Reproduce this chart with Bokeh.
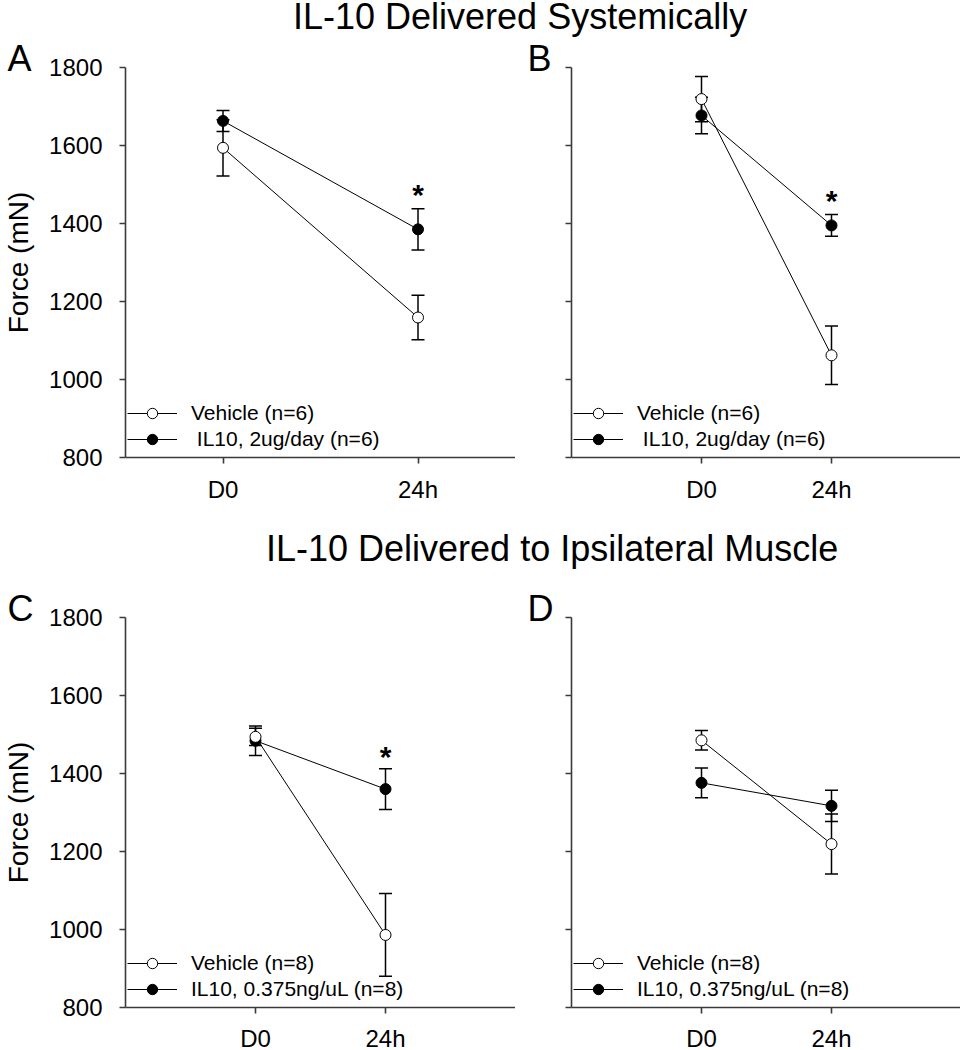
from bokeh.plotting import figure
from bokeh.models import (ColumnDataSource, Whisker, TeeHead, FixedTicker, Legend,
                          LegendItem, Div, Range1d)
from bokeh.layouts import column, row
from bokeh.embed import file_html
from bokeh.resources import INLINE
from bokeh.core.properties import value

FONT = "Liberation Sans"

# ---------------- data ----------------
timepoints = ["D0", "24h"]
x_pos = [0, 1]
y_ticks = [800, 1000, 1200, 1400, 1600, 1800]

title_top = "IL-10 Delivered Systemically"
title_bottom = "IL-10 Delivered to Ipsilateral Muscle"

# Panel A
a_vehicle_mean = [1594, 1159]
a_vehicle_err = [72, 57]
a_il10_mean = [1663, 1385]
a_il10_err = [27, 53]
a_sig = [None, 1485]

# Panel B
b_vehicle_mean = [1719, 1062]
b_vehicle_err = [58, 75]
b_il10_mean = [1677, 1395]
b_il10_err = [47, 28]
b_sig = [None, 1470]

# Panel C
c_vehicle_mean = [1494, 986]
c_vehicle_err = [22, 106]
c_il10_mean = [1484, 1360]
c_il10_err = [38, 52]
c_sig = [None, 1454]

# Panel D
d_vehicle_mean = [1485, 1219]
d_vehicle_err = [25, 77]
d_il10_mean = [1376, 1317]
d_il10_err = [38, 40]
d_sig = [None, None]

legend_vehicle_top = "Vehicle (n=6)"
legend_il10_top = " IL10, 2ug/day (n=6)"
legend_vehicle_bottom = "Vehicle (n=8)"
legend_il10_bottom = "IL10, 0.375ng/uL (n=8)"

AXIS_COLOR = "#3a3a3a"
FRAME = 390
Y0, Y1 = 800, 1800


def make_panel(letter, vm, ve, im, ie, sig, veh_label, il_label, xr,
               ylabels, border_left, border_right, border_bottom, letter_dx,
               label_standoff_x):
    p = figure(frame_width=FRAME, frame_height=FRAME,
               min_border_left=border_left, min_border_right=border_right,
               min_border_top=27, min_border_bottom=border_bottom,
               x_range=Range1d(*xr), y_range=Range1d(Y0, Y1),
               output_backend="svg", toolbar_location=None, tools="")
    p.outline_line_color = None
    p.grid.visible = False
    p.background_fill_color = "white"
    p.border_fill_color = "white"

    # panel letter as a left-aligned title shifted over the left margin
    p.title.text = letter
    p.title.align = "left"
    p.title.offset = letter_dx
    p.title.standoff = -22
    p.title.text_font = FONT
    p.title.text_font_size = "36px"
    p.title.text_font_style = "normal"
    p.title.text_color = "black"

    # axes
    for ax in (p.xaxis[0], p.yaxis[0]):
        ax.axis_line_color = AXIS_COLOR
        ax.axis_line_width = 1.6
        ax.major_tick_line_color = AXIS_COLOR
        ax.major_tick_line_width = 1.6
        ax.major_tick_in = 0
        ax.major_tick_out = 6
        ax.minor_tick_line_color = None
        ax.major_label_text_font = FONT
        ax.major_label_text_font_size = "24px"
        ax.major_label_text_color = "black"
    p.xaxis.ticker = FixedTicker(ticks=x_pos)
    p.xaxis.major_label_overrides = {x: t for x, t in zip(x_pos, timepoints)}
    p.xaxis.major_label_standoff = label_standoff_x
    p.yaxis.ticker = FixedTicker(ticks=y_ticks)
    p.yaxis.major_label_standoff = 17
    if ylabels:
        p.yaxis.axis_label = "Force (mN)"
        p.yaxis.axis_label_text_font = FONT
        p.yaxis.axis_label_text_font_size = "28px"
        p.yaxis.axis_label_text_font_style = "normal"
        p.yaxis.axis_label_text_color = "black"
        p.yaxis.axis_label_standoff = 12
    else:
        p.yaxis.major_label_overrides = {t: "" for t in y_ticks}

    # error bars
    for mean, err in ((vm, ve), (im, ie)):
        src = ColumnDataSource(dict(x=x_pos,
                                    upper=[m + e for m, e in zip(mean, err)],
                                    lower=[m - e for m, e in zip(mean, err)]))
        w = Whisker(base="x", upper="upper", lower="lower", source=src,
                    dimension="height", line_color="black", line_width=1.5,
                    upper_head=TeeHead(size=13, line_color="black", line_width=1.5),
                    lower_head=TeeHead(size=13, line_color="black", line_width=1.5))
        p.add_layout(w)

    # lines & markers
    vl = p.line(x_pos, vm, line_color="black", line_width=1)
    il = p.line(x_pos, im, line_color="black", line_width=1)
    isc = p.scatter(x_pos, im, size=11, marker="circle", fill_color="black",
                    line_color="black", line_width=1)
    vsc = p.scatter(x_pos, vm, size=11, marker="circle", fill_color="white",
                    line_color="black", line_width=1)

    # significance asterisks
    sx = [x for x, s in zip(x_pos, sig) if s is not None]
    sy = [s for s in sig if s is not None]
    if sx:
        p.text(x=sx, y=sy, text=["*"] * len(sx), text_font=value(FONT),
               text_font_style="bold", text_font_size="30px", text_align="center",
               text_baseline="alphabetic", y_offset=4, text_color="black")

    legend = Legend(items=[LegendItem(label=veh_label, renderers=[vl, vsc]),
                           LegendItem(label=il_label, renderers=[il, isc])],
                    location=(2, 5), margin=0, padding=5, spacing=0,
                    glyph_width=50, glyph_height=26, label_height=26,
                    label_standoff=14, label_text_font=FONT,
                    label_text_font_size="21px", label_text_baseline="middle",
                    label_text_color="black",
                    border_line_color=None, background_fill_alpha=0)
    p.add_layout(legend)
    return p


pA = make_panel("A", a_vehicle_mean, a_vehicle_err, a_il10_mean, a_il10_err, a_sig,
                legend_vehicle_top, legend_il10_top, (-0.5, 1.5), True, 123, 0, 60, -118, 12)
pB = make_panel("B", b_vehicle_mean, b_vehicle_err, b_il10_mean, b_il10_err, b_sig,
                legend_vehicle_top, legend_il10_top, (-1, 2), False, 56, 1, 60, -44, 12)
pC = make_panel("C", c_vehicle_mean, c_vehicle_err, c_il10_mean, c_il10_err, c_sig,
                legend_vehicle_bottom, legend_il10_bottom, (-1, 2), True, 123, 0, 43, -118, 11)
pD = make_panel("D", d_vehicle_mean, d_vehicle_err, d_il10_mean, d_il10_err, d_sig,
                legend_vehicle_bottom, legend_il10_bottom, (-1, 2), False, 56, 1, 43, -44, 11)

title_style = ("font-family:'Liberation Sans',Arial,sans-serif;font-size:36px;"
               "line-height:28px;white-space:nowrap;color:#000;")
div1 = Div(text=f'<div style="{title_style}padding-left:293px;padding-top:3px;">{title_top}</div>',
           width=960, height=40, margin=0)
div2 = Div(text=f'<div style="{title_style}padding-left:266px;padding-top:18px;">{title_bottom}</div>',
           width=960, height=73, margin=0)

layout = column(div1, row(pA, pB), div2, row(pC, pD), margin=(0, 0, -12, 0))

open("out.html", "w").write(file_html(layout, INLINE))
